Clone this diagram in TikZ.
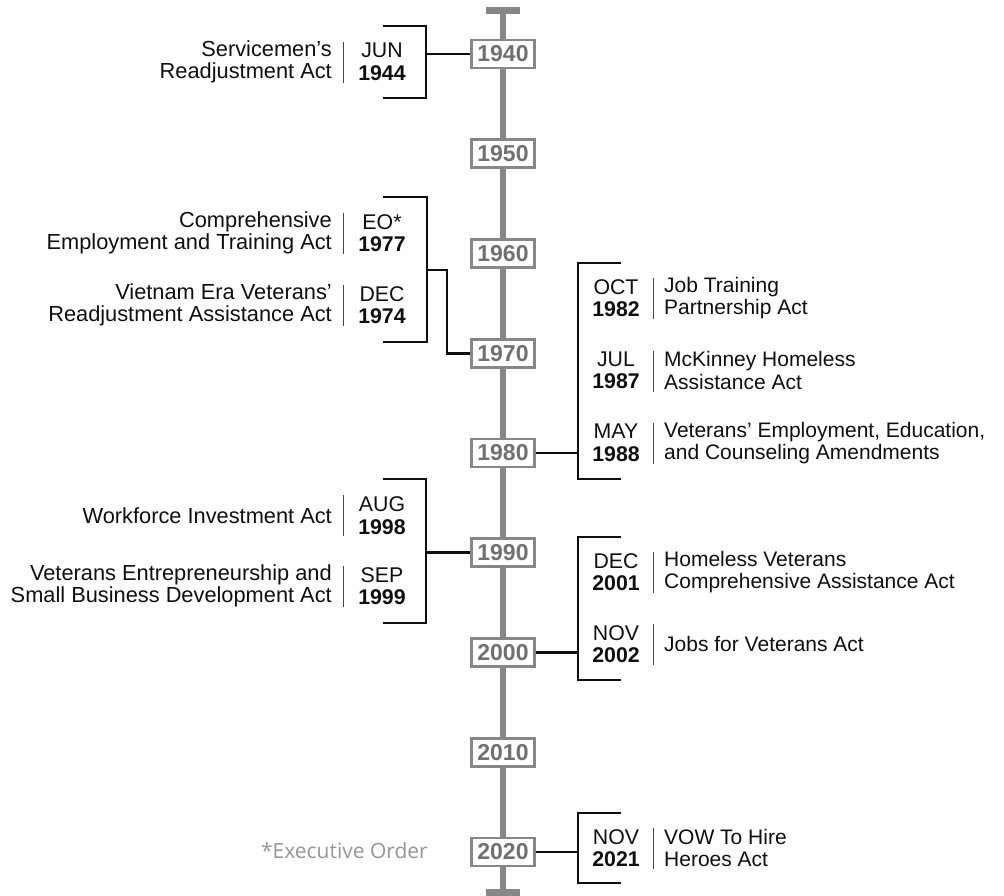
\documentclass[tikz,border=0pt]{standalone}
\usepackage{fontspec}
\setmainfont{Liberation Sans}
\newfontfamily\notefont{Open Sans}
\definecolor{axisgray}{RGB}{135,135,135}
\definecolor{yeargray}{RGB}{112,112,112}
\definecolor{ink}{RGB}{15,15,15}
\definecolor{rulegray}{RGB}{70,70,70}
\definecolor{notegray}{RGB}{150,150,150}
\begin{document}
\begin{tikzpicture}[x=1pt,y=-1pt,
  axisline/.style={draw=axisgray,line width=6pt},
  capline/.style={draw=axisgray,line width=7pt},
  yearbox/.style={draw=axisgray,line width=2.6pt,fill=white,minimum width=63pt,minimum height=28pt,
    inner sep=0pt,text=yeargray,font=\fontsize{23}{23}\selectfont\bfseries},
  bracket/.style={draw=ink,line width=2.6pt},
  act/.style={text=ink,inner sep=0pt},
  actleft/.style={act,font=\fontsize{21.8}{22.5}\selectfont,anchor=east,align=right},
  actright/.style={act,font=\fontsize{21}{22.5}\selectfont,anchor=west,align=left},
  when/.style={act,font=\fontsize{21.3}{22.5}\selectfont,align=center},
  divider/.style={draw=rulegray,line width=0.9pt}
]
\useasboundingbox (0,0) rectangle (1004,896);

% --- time axis with end caps ---
\coordinate (axtop) at (503,11);
\coordinate (axbot) at (503,892);
\draw[axisline] (axtop) -- (axbot);
\draw[capline] (486,11) -- (520,11);
\draw[capline] (486,892) -- (520,892);

% --- decade boxes ---
\node[yearbox] (y1940) at (503,54) {1940};
\node[yearbox] (y1950) at (503,153.75) {1950};
\node[yearbox] (y1960) at (503,253.5) {1960};
\node[yearbox] (y1970) at (503,353.25) {1970};
\node[yearbox] (y1980) at (503,453) {1980};
\node[yearbox] (y1990) at (503,552.75) {1990};
\node[yearbox] (y2000) at (503,652.5) {2000};
\node[yearbox] (y2010) at (503,752.25) {2010};
\node[yearbox] (y2020) at (503,852) {2020};

% --- 1940s: left group ---
\coordinate (b40a) at (383,26);  \coordinate (b40b) at (426,26);
\coordinate (b40c) at (426,98);  \coordinate (b40d) at (383,98);
\draw[bracket] (b40a) -- (b40b) -- (b40c) -- (b40d);
\coordinate (b40m) at (426,54);
\draw[bracket] (y1940.west) -- (b40m);
\node[actleft] (servicemen) at (332,62) {Servicemen’s\\Readjustment Act};
\node[when] (d1944) at (382,62) {JUN\\\textbf{1944}};
\draw[divider] (343,42) -- (343,83);

% --- 1970s: left group ---
\coordinate (b70a) at (383,197); \coordinate (b70b) at (427,197);
\coordinate (b70c) at (427,342); \coordinate (b70d) at (383,342);
\draw[bracket] (b70a) -- (b70b) -- (b70c) -- (b70d);
\coordinate (b70m) at (427,270); \coordinate (b70j) at (447,270);
\draw[bracket] (b70m) -- (b70j) |- (y1970.west);
\node[actleft] (ceta) at (332,233) {Comprehensive\\Employment and Training Act};
\node[when] (d1977) at (382,233) {EO*\\\textbf{1977}};
\draw[divider] (343,213) -- (343,254);
\node[actleft] (vevraa) at (332,305) {Vietnam Era Veterans’\\Readjustment Assistance Act};
\node[when] (d1974) at (382,305) {DEC\\\textbf{1974}};
\draw[divider] (343,285) -- (343,326);

% --- 1980s: right group ---
\coordinate (b80a) at (621,263); \coordinate (b80b) at (578,263);
\coordinate (b80c) at (578,479); \coordinate (b80d) at (621,479);
\draw[bracket] (b80a) -- (b80b) -- (b80c) -- (b80d);
\coordinate (b80m) at (578,453);
\draw[bracket] (y1980.east) -- (b80m);
\node[when] (d1982) at (616,298) {OCT\\\textbf{1982}};
\draw[divider] (653,278) -- (653,319);
\node[actright] (jtpa) at (664,298) {Job Training\\Partnership Act};
\node[when] (d1987) at (616,370.5) {JUL\\\textbf{1987}};
\draw[divider] (653,350.5) -- (653,391.5);
\node[actright] (mckinney) at (664,370.5) {McKinney Homeless\\Assistance Act};
\node[when] (d1988) at (616,443) {MAY\\\textbf{1988}};
\draw[divider] (653,423) -- (653,464);
\node[actright] (veeca) at (664,443) {Veterans’ Employment, Education,\\and Counseling Amendments};

% --- 1990s: left group ---
\coordinate (b90a) at (383,479); \coordinate (b90b) at (426,479);
\coordinate (b90c) at (426,623); \coordinate (b90d) at (383,623);
\draw[bracket] (b90a) -- (b90b) -- (b90c) -- (b90d);
\coordinate (b90m) at (426,552.75);
\draw[bracket] (y1990.west) -- (b90m);
\node[actleft] (wia) at (332,516) {Workforce Investment Act};
\node[when] (d1998) at (382,515.5) {AUG\\\textbf{1998}};
\draw[divider] (343,495) -- (343,536);
\node[actleft] (vesbda) at (332,586) {Veterans Entrepreneurship and\\Small Business Development Act};
\node[when] (d1999) at (382,586) {SEP\\\textbf{1999}};
\draw[divider] (343,566) -- (343,607);

% --- 2000s: right group ---
\coordinate (b00a) at (621,537); \coordinate (b00b) at (578,537);
\coordinate (b00c) at (578,680); \coordinate (b00d) at (621,680);
\draw[bracket] (b00a) -- (b00b) -- (b00c) -- (b00d);
\coordinate (b00m) at (578,652.5);
\draw[bracket] (y2000.east) -- (b00m);
\node[when] (d2001) at (616,572) {DEC\\\textbf{2001}};
\draw[divider] (653,552) -- (653,593);
\node[actright] (hvcaa) at (664,572) {Homeless Veterans\\Comprehensive Assistance Act};
\node[when] (d2002) at (616,644) {NOV\\\textbf{2002}};
\draw[divider] (653,624) -- (653,665);
\node[actright] (jva) at (664,644) {Jobs for Veterans Act};

% --- 2020s: right group ---
\coordinate (b20a) at (621,813); \coordinate (b20b) at (578,813);
\coordinate (b20c) at (578,883); \coordinate (b20d) at (621,883);
\draw[bracket] (b20a) -- (b20b) -- (b20c) -- (b20d);
\coordinate (b20m) at (578,852);
\draw[bracket] (y2020.east) -- (b20m);
\node[when] (d2021) at (616,848) {NOV\\\textbf{2021}};
\draw[divider] (653,828) -- (653,869);
\node[actright] (vow) at (664,848) {VOW To Hire\\Heroes Act};

% --- footnote ---
\node[anchor=east,inner sep=0pt,text=notegray,font=\notefont\fontsize{21}{21}\selectfont] (eonote) at (428,851) {*Executive Order};
\end{tikzpicture}
\end{document}
